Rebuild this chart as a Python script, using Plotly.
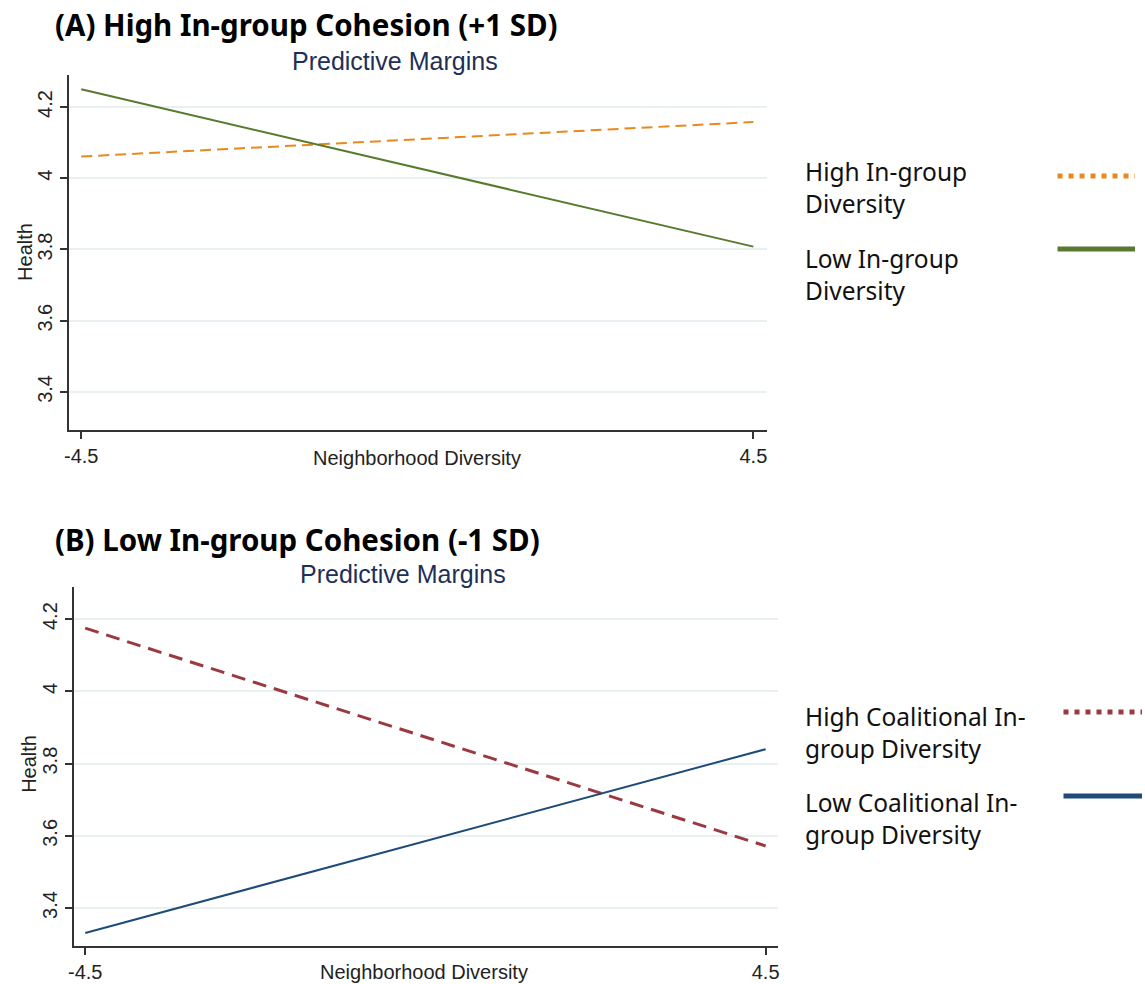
import plotly.graph_objects as go

# ---- data ----
x_vals = [-4.5, 4.5]
x_ticks = [-4.5, 4.5]
x_ticklabels = ["-4.5", "4.5"]
y_ticks = [3.4, 3.6, 3.8, 4.0, 4.2]
y_ticklabels = ["3.4", "3.6", "3.8", "4", "4.2"]

top_high = [4.061, 4.158]   # High In-group Diversity
top_low = [4.250, 3.808]    # Low In-group Diversity
bot_high = [4.175, 3.572]   # High Coalitional In-group Diversity
bot_low = [3.331, 3.840]    # Low Coalitional In-group Diversity

ORANGE = "#E8891E"
GREEN = "#587A2E"
RED = "#9A3A40"
BLUE = "#1F4B78"
GRID = "#E8F0F2"
AX = "#333333"

W, H = 1145, 984

def px_x(p):
    return p / W

def px_y(p):
    return 1 - p / H

fig = go.Figure()

fig.add_trace(go.Scatter(x=x_vals, y=top_high, mode="lines", xaxis="x", yaxis="y",
                         line=dict(color=ORANGE, width=2, dash="11px,6px"), showlegend=False))
fig.add_trace(go.Scatter(x=x_vals, y=top_low, mode="lines", xaxis="x", yaxis="y",
                         line=dict(color=GREEN, width=2), showlegend=False))
fig.add_trace(go.Scatter(x=x_vals, y=bot_high, mode="lines", xaxis="x2", yaxis="y2",
                         line=dict(color=RED, width=3, dash="14px,8px"), showlegend=False))
fig.add_trace(go.Scatter(x=x_vals, y=bot_low, mode="lines", xaxis="x2", yaxis="y2",
                         line=dict(color=BLUE, width=2), showlegend=False))

axis_font = dict(family="Liberation Sans, Arial", size=20, color="#222222")

xcommon = dict(tickvals=x_ticks, ticktext=x_ticklabels, showgrid=False, zeroline=False,
               showline=True, linecolor=AX, linewidth=1.5, ticks="outside", ticklen=7,
               tickcolor=AX, tickwidth=1.5, tickfont=axis_font)
ycommon = dict(tickvals=y_ticks, ticktext=y_ticklabels, showgrid=True, gridcolor=GRID, gridwidth=1.5,
               zeroline=False, showline=True, linecolor=AX, linewidth=1.5, ticks="outside",
               ticklen=7, tickcolor=AX, tickwidth=1.5, tickfont=axis_font, tickangle=-90)

fig.update_layout(
    width=W, height=H,
    margin=dict(l=0, r=0, t=0, b=0),
    paper_bgcolor="white", plot_bgcolor="white",
    xaxis=dict(domain=[px_x(63), px_x(766)], range=[-4.669, 4.687], anchor="y", **xcommon),
    yaxis=dict(domain=[px_y(430), px_y(75)], range=[3.293, 4.290], anchor="x", **ycommon),
    xaxis2=dict(domain=[px_x(68), px_x(777)], range=[-4.654, 4.667], anchor="y2", **xcommon),
    yaxis2=dict(domain=[px_y(946), px_y(587)], range=[3.295, 4.289], anchor="x2", **ycommon),
)

ann = []
title_font = dict(family="Noto Sans, Open Sans", size=29.5, color="black")
ann.append(dict(text="<b>(A) High In-group Cohesion (+1 SD)</b>", x=px_x(47), y=px_y(24),
                xanchor="left", yanchor="middle", font=title_font))
ann.append(dict(text="<b>(B) Low In-group Cohesion (-1 SD)</b>", x=px_x(47), y=px_y(539),
                xanchor="left", yanchor="middle", font=title_font))
sub_font = dict(family="Liberation Sans, Arial", size=25, color="#1F2F57")
ann.append(dict(text="Predictive Margins", x=px_x(391), y=px_y(61), xanchor="center",
                yanchor="middle", font=sub_font))
ann.append(dict(text="Predictive Margins", x=px_x(399), y=px_y(574), xanchor="center",
                yanchor="middle", font=sub_font))
# axis titles
ann.append(dict(text="Neighborhood Diversity", x=px_x(414), y=px_y(458), xanchor="center",
                yanchor="middle", font=axis_font))
ann.append(dict(text="Neighborhood Diversity", x=px_x(421), y=px_y(972), xanchor="center",
                yanchor="middle", font=axis_font))
ann.append(dict(text="Health", x=px_x(19), y=px_y(252), xanchor="center", yanchor="middle",
                textangle=-90, font=axis_font))
ann.append(dict(text="Health", x=px_x(23), y=px_y(764), xanchor="center", yanchor="middle",
                textangle=-90, font=axis_font))
# legends
leg_font = dict(family="Noto Sans, Open Sans", size=24.5, color="#111111")
for txt, yc in [("High In-group<br>Diversity", 187), ("Low In-group<br>Diversity", 274),
                ("High Coalitional In-<br>group Diversity", 732), ("Low Coalitional In-<br>group Diversity", 818)]:
    ann.append(dict(text=txt, x=px_x(802), y=px_y(yc), xanchor="left", yanchor="middle",
                    align="left", font=leg_font))
for a in ann:
    a.update(xref="paper", yref="paper", showarrow=False)
fig.update_layout(annotations=ann)

shapes = [
    dict(x0=px_x(1058), x1=px_x(1136), y0=px_y(176), y1=px_y(176), line=dict(color=ORANGE, width=5, dash="5px,6px")),
    dict(x0=px_x(1058), x1=px_x(1136), y0=px_y(249), y1=px_y(249), line=dict(color=GREEN, width=5)),
    dict(x0=px_x(1064), x1=px_x(1143), y0=px_y(712), y1=px_y(712), line=dict(color=RED, width=5, dash="5px,6px")),
    dict(x0=px_x(1064), x1=px_x(1143), y0=px_y(796), y1=px_y(796), line=dict(color=BLUE, width=5)),
]
for s in shapes:
    s.update(type="line", xref="paper", yref="paper")
fig.update_layout(shapes=shapes)

fig.write_html("out.html", config={"displayModeBar": False},
               post_script="document.body.style.margin='0px';document.body.style.overflow='hidden';")
